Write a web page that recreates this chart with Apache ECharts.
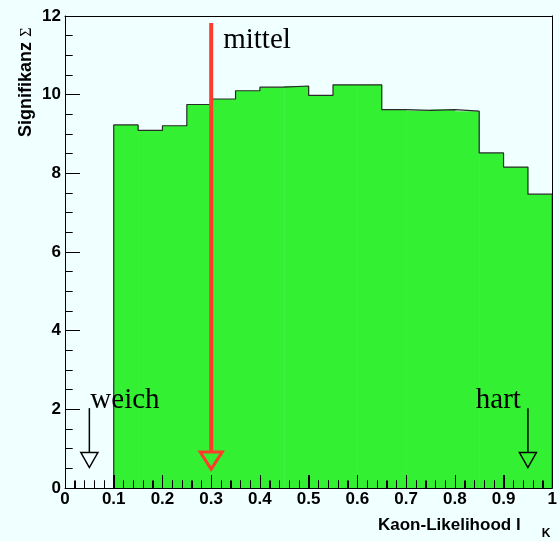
<!DOCTYPE html>
<html><head><meta charset="utf-8">
<script src="https://cdn.jsdelivr.net/npm/echarts@6/dist/echarts.min.js"></script>
<style>html,body{margin:0;padding:0;background:#f0ffff}#c{width:560px;height:541px}</style>
</head><body><div id="c"></div>
<script>
// Histogram bins (Kaon-Likelihood cut) and significance values
const binEdges = [0.10,0.15,0.20,0.25,0.30,0.35,0.40,0.45,0.50,0.55,0.60,0.65,0.70,0.75,0.80,0.85,0.90,0.95,1.00];
const significance = [9.23,9.09,9.21,9.75,9.89,10.10,10.19,10.22,9.98,10.25,10.25,9.62,9.60,9.62,9.58,8.52,8.16,7.47];
const xTickLabels = ['0','0.1','0.2','0.3','0.4','0.5','0.6','0.7','0.8','0.9','1'];
// Annotation arrows
const arrowNames = ['weich','mittel','hart'];
const arrowX = [0.05,0.30,0.95];
const arrowTop = [2.03,11.82,2.03];
const arrowTip = [0.52,0.48,0.52];

const histData = significance.map((v,i)=>[binEdges[i],binEdges[i+1],v]);
const outline = [[binEdges[0],0]];
significance.forEach((v,i)=>{outline.push([binEdges[i],v]);outline.push([binEdges[i+1],v]);});
outline.push([binEdges[binEdges.length-1],0]);
const arrowData = arrowX.map((x,i)=>[x,arrowTop[i],arrowTip[i],i]);
// x-axis tick positions (minor every 0.02, major every 0.1), redrawn above the filled histogram
const xTickValues = [];
for(let k=0;k<=50;k++){ xTickValues.push(k/50); }

const SANS = '"Liberation Sans", Arial, Helvetica, sans-serif';
const SERIF = '"Liberation Serif", "Times New Roman", serif';
const RED = '#ff3b2a';

const frameAxis = {show:true,axisLine:{show:true,onZero:false,lineStyle:{color:'#000',width:1}},axisTick:{show:false},axisLabel:{show:false},splitLine:{show:false},z:10};

const chart = echarts.init(document.getElementById('c'), null, {renderer:'canvas'});
chart.setOption({
  animation:false,
  backgroundColor:'#f0ffff',
  grid:{left:65,right:6,top:16,bottom:53,show:false,containLabel:false},
  xAxis:[{type:'value',min:0,max:1,interval:0.1,z:10,
    axisLine:{show:true,onZero:false,lineStyle:{color:'#000',width:1}},
    axisTick:{show:true,inside:true,length:13,lineStyle:{color:'#000'}},
    minorTick:{show:true,splitNumber:5,length:7.5,lineStyle:{color:'#000'}},
    splitLine:{show:false},
    axisLabel:{margin:3,color:'#000',fontSize:17,fontWeight:'bold',fontFamily:SANS,showMinLabel:true,showMaxLabel:true,
      formatter:v=>xTickLabels[Math.round(v*10)]}
  },
  Object.assign({type:'value',min:0,max:1,position:'top'},frameAxis)],
  yAxis:[{type:'value',min:0,max:12,interval:2,z:10,
    axisLine:{show:true,onZero:false,lineStyle:{color:'#000',width:1}},
    axisTick:{show:true,inside:true,length:15,lineStyle:{color:'#000'}},
    minorTick:{show:true,splitNumber:4,length:7.7,lineStyle:{color:'#000'}},
    splitLine:{show:false},
    axisLabel:{margin:4,color:'#000',fontSize:17,fontWeight:'bold',fontFamily:SANS,showMinLabel:true,showMaxLabel:true}
  },
  Object.assign({type:'value',min:0,max:12,position:'right'},frameAxis)],
  series:[
    {type:'custom',data:histData,clip:true,z:2,
      renderItem:(params,api)=>{
        const p0=api.coord([api.value(0),api.value(2)]);
        const p1=api.coord([api.value(1),0]);
        return {type:'rect',shape:{x:p0[0],y:p0[1],width:p1[0]-p0[0]+0.5,height:p1[1]-p0[1]},style:{fill:'#33f033'}};
      }},
    {type:'line',data:outline,symbol:'none',z:3,lineStyle:{color:'#2a2a2a',width:1.2},silent:true},
    {type:'custom',data:arrowData,z:20,clip:false,
      renderItem:(params,api)=>{
        const i=api.value(3);
        const top=api.coord([api.value(0),api.value(1)]);
        const tip=api.coord([api.value(0),api.value(2)]);
        const red = i===1;
        const h = red?17:15, w = red?11:8.5;
        const col = red?RED:'#000';
        const lw = red?4:1.5;
        const name = arrowNames[i];
        let tx, ty, align;
        if(i===0){tx=top[0]+1;ty=top[1];align='left';}
        else if(i===1){tx=top[0]+12;ty=top[1]+25;align='left';}
        else {tx=top[0]-7;ty=top[1];align='right';}
        const children = [];
        if(i===0){
          xTickValues.forEach((v,k)=>{
            const p = api.coord([v,0]);
            const len = (k%5===0) ? 13 : 7.5;
            const x = Math.round(p[0])+0.5;
            children.push({type:'line',shape:{x1:x,y1:p[1],x2:x,y2:p[1]-len},style:{stroke:'#000',lineWidth:1}});
          });
        }
        children.push(
          {type:'line',shape:{x1:top[0],y1:top[1],x2:tip[0],y2:tip[1]-h},style:{stroke:col,lineWidth:lw}},
          {type:'polygon',shape:{points:[[tip[0]-w,tip[1]-h],[tip[0]+w,tip[1]-h],[tip[0],tip[1]]]},style:{fill:null,stroke:col,lineWidth:red?3:1.5}},
          {type:'text',style:{text:name,x:tx,y:ty+7,textAlign:align,textVerticalAlign:'bottom',font:'29px '+SERIF,fill:'#000'}}
        );
        return {type:'group',children:children};
      }}
  ],
  graphic:[
    {type:'text',x:26,y:137,rotation:Math.PI/2,style:{text:'Signifikanz',font:'bold 18px '+SANS,fill:'#000',textAlign:'left',textVerticalAlign:'middle'}},
    {type:'text',x:27,y:32,rotation:Math.PI/2,style:{text:'Σ',font:'16px '+SERIF,fill:'#000',textAlign:'center',textVerticalAlign:'middle'}},
    {type:'text',x:378,y:525,style:{text:'Kaon-Likelihood l',font:'bold 17px '+SANS,fill:'#000',textAlign:'left',textVerticalAlign:'middle'}},
    {type:'text',x:546,y:534,style:{text:'K',font:'bold 12px '+SANS,fill:'#000',textAlign:'center',textVerticalAlign:'middle'}}
  ]
});
</script></body></html>
